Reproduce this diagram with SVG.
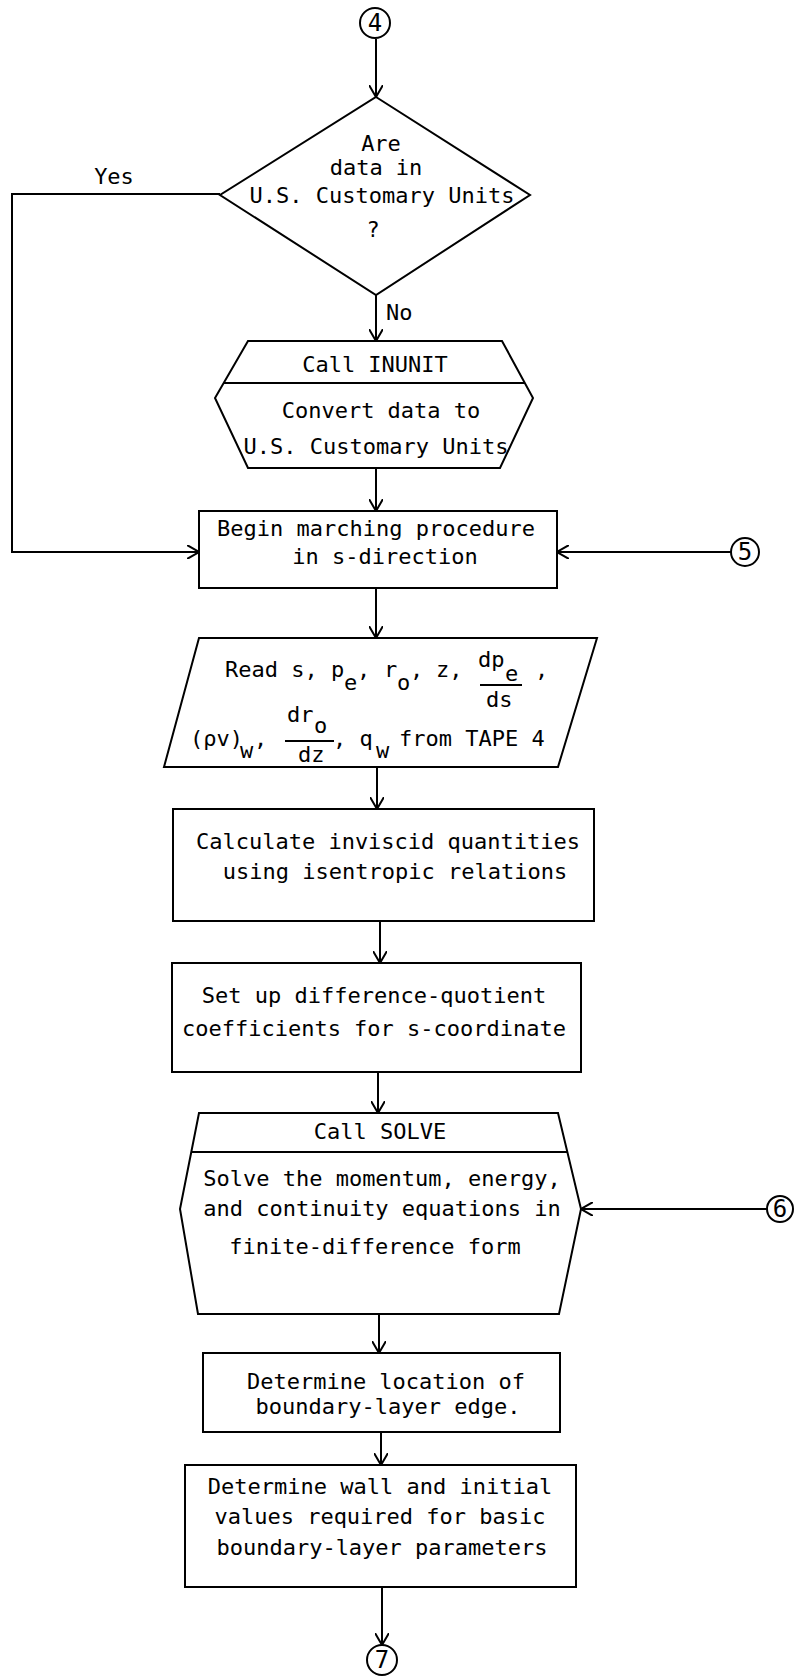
<svg xmlns="http://www.w3.org/2000/svg" width="794" height="1677" viewBox="0 0 794 1677">
<style>
.s{fill:none;stroke:#000;stroke-width:2}
.t{font-family:"DejaVu Sans Mono","Liberation Mono",monospace;font-size:22px;fill:#000}
.m{text-anchor:middle}
.c{font-family:"DejaVu Sans Mono","Liberation Mono",monospace;font-size:24px;fill:#000;text-anchor:middle}
</style>
<defs>
<marker id="ah" viewBox="0 0 12 14" refX="12" refY="7" markerWidth="12" markerHeight="14" markerUnits="userSpaceOnUse" orient="auto">
<path d="M0,0 L12,7 L0,14" fill="none" stroke="#000" stroke-width="2"/>
</marker>
</defs>
<rect width="794" height="1677" fill="#fff"/>
<g id="connectors" class="s">
<line x1="376" y1="39" x2="376" y2="97" marker-end="url(#ah)"/>
<line x1="376" y1="295" x2="376" y2="341" marker-end="url(#ah)"/>
<polyline points="220,194 12,194 12,552 199,552" marker-end="url(#ah)"/>
<line x1="376" y1="468" x2="376" y2="511" marker-end="url(#ah)"/>
<line x1="731" y1="552" x2="557" y2="552" marker-end="url(#ah)"/>
<line x1="376" y1="588" x2="376" y2="638" marker-end="url(#ah)"/>
<line x1="377" y1="767" x2="377" y2="809" marker-end="url(#ah)"/>
<line x1="380" y1="921" x2="380" y2="963" marker-end="url(#ah)"/>
<line x1="378" y1="1072" x2="378" y2="1113" marker-end="url(#ah)"/>
<line x1="767" y1="1209" x2="581" y2="1209" marker-end="url(#ah)"/>
<line x1="379" y1="1314" x2="379" y2="1353" marker-end="url(#ah)"/>
<line x1="381" y1="1432" x2="381" y2="1465" marker-end="url(#ah)"/>
<line x1="382" y1="1587" x2="382" y2="1645" marker-end="url(#ah)"/>
</g>
<g id="labels">
<text class="t m" x="114" y="184">Yes</text>
<text class="t" x="386" y="320">No</text>
</g>
<g id="conn4">
<circle class="s" cx="375" cy="23" r="15"/>
<text class="c" x="375" y="31">4</text>
</g>
<g id="decision">
<polygon class="s" points="376,97 530,195 376,295 220,195"/>
<text class="t m" x="381" y="151">Are</text>
<text class="t m" x="376" y="175">data in</text>
<text class="t m" x="382" y="203">U.S. Customary Units</text>
<text class="t m" x="373" y="237">?</text>
</g>
<g id="inunit">
<polygon class="s" points="248,341 502,341 533,398 500,468 248,468 215,398"/>
<line class="s" x1="224" y1="383" x2="525" y2="383"/>
<text class="t m" x="375" y="372">Call INUNIT</text>
<text class="t m" x="381" y="418">Convert data to</text>
<text class="t m" x="376" y="454">U.S. Customary Units</text>
</g>
<g id="begin">
<rect class="s" x="199" y="511" width="358" height="77"/>
<text class="t m" x="376" y="536">Begin marching procedure</text>
<text class="t m" x="385" y="564">in s-direction</text>
</g>
<g id="conn5">
<circle class="s" cx="745" cy="552" r="14"/>
<text class="c" x="745" y="560">5</text>
</g>
<g id="read">
<polygon class="s" points="199,638 597,638 558,767 164,767"/>
<text class="t" x="225" y="677">Read s, p</text>
<text class="t" x="344" y="690">e</text>
<text class="t" x="357" y="677">,</text>
<text class="t" x="384" y="677">r</text>
<text class="t" x="397" y="690">o</text>
<text class="t" x="410" y="677">,</text>
<text class="t" x="436" y="677">z,</text>
<text class="t" x="478" y="667">dp</text>
<text class="t" x="505" y="681">e</text>
<line class="s" x1="480" y1="685" x2="522" y2="685"/>
<text class="t" x="486" y="707">ds</text>
<text class="t" x="535" y="677">,</text>
<text class="t" x="190" y="746">(ρv)</text>
<text class="t" x="240" y="758">w</text>
<text class="t" x="254" y="746">,</text>
<text class="t" x="287" y="722">dr</text>
<text class="t" x="314" y="733">o</text>
<line class="s" x1="285" y1="741" x2="334" y2="741"/>
<text class="t" x="298" y="762">dz</text>
<text class="t" x="333" y="746">, q</text>
<text class="t" x="376" y="758">w</text>
<text class="t" x="399" y="746">from TAPE 4</text>
</g>
<g id="calc">
<rect class="s" x="173" y="809" width="421" height="112"/>
<text class="t m" x="388" y="849">Calculate inviscid quantities</text>
<text class="t m" x="395" y="879">using isentropic relations</text>
</g>
<g id="setup">
<rect class="s" x="172" y="963" width="409" height="109"/>
<text class="t m" x="374" y="1003">Set up difference-quotient</text>
<text class="t m" x="374" y="1036">coefficients for s-coordinate</text>
</g>
<g id="solve">
<polygon class="s" points="199,1113 558,1113 581,1209 559,1314 198,1314 180,1209"/>
<line class="s" x1="191" y1="1152" x2="567" y2="1152"/>
<text class="t m" x="380" y="1139">Call SOLVE</text>
<text class="t m" x="382" y="1186">Solve the momentum, energy,</text>
<text class="t m" x="382" y="1216">and continuity equations in</text>
<text class="t m" x="375" y="1254">finite-difference form</text>
</g>
<g id="conn6">
<circle class="s" cx="780" cy="1209" r="13"/>
<text class="c" x="780" y="1217">6</text>
</g>
<g id="edge">
<rect class="s" x="203" y="1353" width="357" height="79"/>
<text class="t m" x="386" y="1389">Determine location of</text>
<text class="t m" x="388" y="1414">boundary-layer edge.</text>
</g>
<g id="wall">
<rect class="s" x="185" y="1465" width="391" height="122"/>
<text class="t m" x="380" y="1494">Determine wall and initial</text>
<text class="t m" x="380" y="1524">values required for basic</text>
<text class="t m" x="382" y="1555">boundary-layer parameters</text>
</g>
<g id="conn7">
<circle class="s" cx="382" cy="1660" r="15"/>
<text class="c" x="382" y="1668">7</text>
</g>
</svg>
